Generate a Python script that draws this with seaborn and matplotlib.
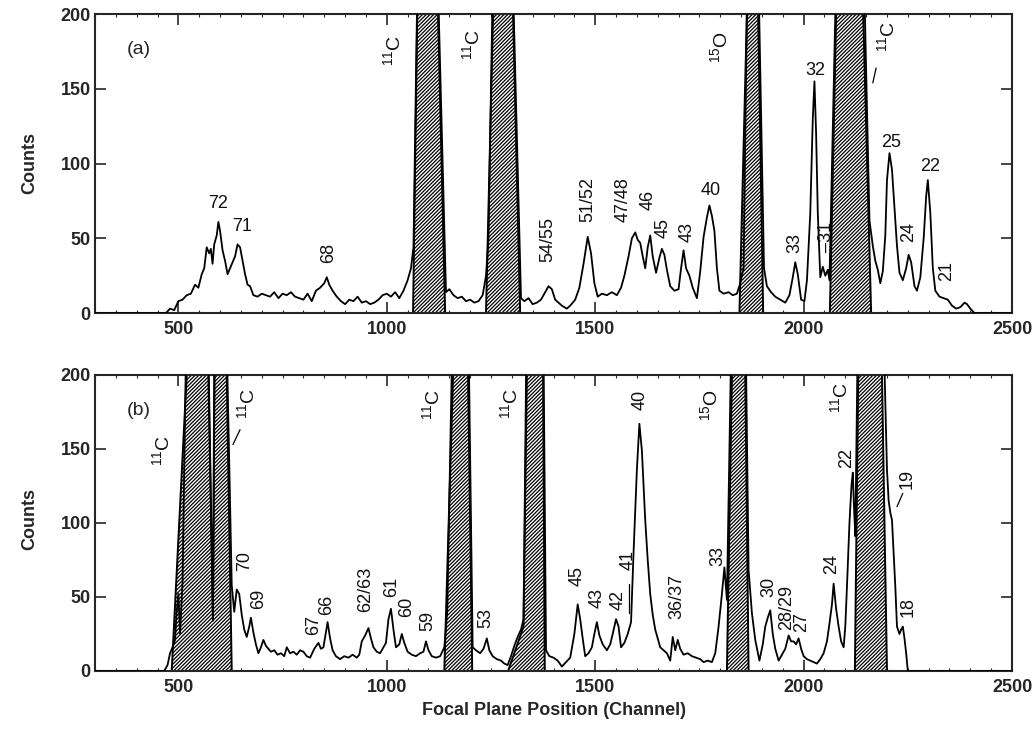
# Focal-plane spectra (a) and (b) with hatched contaminant peaks

import matplotlib
matplotlib.use('Agg')
import matplotlib.pyplot as plt
import seaborn as sns
import pandas as pd
from matplotlib.ticker import MultipleLocator

sns.set_style('ticks')
plt.rcParams['font.family'] = ['Liberation Sans', 'DejaVu Sans']
plt.rcParams['mathtext.fontset'] = 'custom'
plt.rcParams['mathtext.rm'] = 'Liberation Sans'
plt.rcParams['mathtext.it'] = 'Liberation Sans'
plt.rcParams['hatch.linewidth'] = 0.9

# ---- panel (a) spectrum (channel, counts) ----
a_channel = [300, 470, 480, 490, 500, 510, 520, 530, 540, 548, 556, 562, 568, 574, 578, 582, 586, 592, 596, 600,
             606, 612, 618, 624, 630, 636, 642, 648, 654, 660, 666, 672, 680, 690, 700, 710, 720, 730, 740, 750,
             760, 770, 780, 790, 800, 810, 820, 830, 840, 850, 856, 862, 870, 880, 890, 900, 910, 920, 930, 940,
             950, 960, 970, 980, 990, 1000, 1010, 1020, 1030, 1040, 1050, 1058, 1064, 1075, 1120, 1142, 1150, 1160, 1170, 1180,
             1190, 1200, 1210, 1220, 1230, 1238, 1244, 1256, 1300, 1322, 1330, 1340, 1350, 1360, 1370, 1380, 1388, 1396, 1404, 1412,
             1420, 1432, 1440, 1452, 1462, 1472, 1482, 1490, 1498, 1506, 1516, 1528, 1540, 1552, 1562, 1570, 1580, 1588, 1596, 1602,
             1608, 1614, 1620, 1626, 1632, 1638, 1646, 1654, 1660, 1666, 1672, 1680, 1690, 1700, 1706, 1712, 1718, 1726, 1734, 1744,
             1752, 1760, 1768, 1774, 1780, 1786, 1792, 1798, 1808, 1820, 1830, 1840, 1848, 1856, 1866, 1890, 1905, 1912, 1922, 1932,
             1944, 1956, 1966, 1974, 1980, 1986, 1994, 2002, 2008, 2016, 2022, 2026, 2030, 2034, 2040, 2046, 2052, 2058, 2062, 2080,
             2143, 2158, 2166, 2172, 2178, 2184, 2190, 2196, 2200, 2206, 2212, 2218, 2224, 2230, 2238, 2246, 2252, 2258, 2266, 2272,
             2280, 2288, 2294, 2298, 2304, 2310, 2316, 2326, 2336, 2346, 2356, 2366, 2376, 2386, 2392, 2400, 2410, 2500]
a_counts = [0, 0, 3, 2, 8, 9, 12, 13, 19, 17, 26, 30, 44, 40, 43, 33, 46, 52, 61, 55,
            42, 35, 26, 30, 34, 38, 46, 44, 35, 26, 19, 18, 12, 11, 13, 12, 11, 14, 10, 13,
            12, 14, 11, 10, 9, 13, 8, 15, 17, 20, 24, 19, 15, 11, 8, 6, 9, 8, 11, 7,
            8, 6, 7, 9, 12, 13, 11, 14, 10, 15, 22, 30, 44, 250, 250, 14, 16, 12, 10, 11,
            8, 9, 7, 8, 12, 25, 50, 250, 250, 10, 8, 10, 6, 7, 9, 14, 18, 16, 9, 7,
            5, 3, 5, 9, 17, 33, 51, 40, 20, 11, 13, 12, 14, 12, 17, 25, 38, 50, 54, 49,
            47, 38, 30, 44, 52, 38, 27, 37, 43, 39, 29, 18, 15, 16, 30, 42, 30, 25, 17, 10,
            28, 51, 64, 72, 65, 55, 30, 15, 13, 14, 12, 13, 20, 30, 250, 250, 30, 18, 14, 11,
            9, 7, 12, 24, 34, 26, 9, 8, 22, 67, 130, 155, 120, 67, 24, 31, 25, 29, 22, 250,
            250, 62, 45, 35, 29, 20, 28, 52, 89, 107, 96, 70, 45, 27, 22, 30, 39, 34, 18, 15,
            24, 50, 78, 89, 67, 30, 15, 11, 10, 9, 5, 3, 4, 7, 6, 3, 0, 0]

# ---- panel (b) spectrum ----
b_channel = [300, 466, 474, 480, 486, 492, 496, 500, 504, 510, 520, 570, 583, 588, 614, 628, 634, 640, 646, 652,
             658, 664, 670, 674, 680, 686, 692, 698, 704, 710, 716, 722, 730, 738, 746, 754, 760, 768, 776, 784,
             792, 800, 808, 816, 826, 836, 842, 848, 854, 858, 864, 870, 878, 888, 898, 908, 918, 928, 934, 940,
             948, 956, 962, 968, 976, 984, 990, 998, 1004, 1010, 1016, 1022, 1030, 1036, 1042, 1050, 1060, 1070, 1080, 1088,
             1094, 1100, 1108, 1118, 1128, 1138, 1145, 1159, 1195, 1206, 1214, 1224, 1232, 1240, 1246, 1254, 1264, 1274, 1282, 1290,
             1298, 1306, 1314, 1322, 1328, 1336, 1375, 1382, 1390, 1400, 1410, 1420, 1430, 1440, 1450, 1458, 1464, 1470, 1476, 1484,
             1492, 1498, 1504, 1510, 1518, 1528, 1536, 1542, 1550, 1556, 1562, 1570, 1578, 1586, 1592, 1600, 1606, 1612, 1620, 1626,
             1632, 1638, 1644, 1650, 1656, 1664, 1672, 1680, 1686, 1692, 1698, 1704, 1712, 1722, 1732, 1742, 1752, 1760, 1770, 1780,
             1788, 1796, 1804, 1810, 1816, 1828, 1860, 1868, 1876, 1884, 1894, 1902, 1908, 1914, 1920, 1926, 1932, 1940, 1948, 1956,
             1964, 1970, 1976, 1982, 1988, 1994, 2000, 2008, 2016, 2024, 2032, 2040, 2048, 2056, 2062, 2068, 2072, 2078, 2084, 2090,
             2096, 2100, 2104, 2110, 2115, 2118, 2121, 2124, 2131, 2190, 2200, 2204, 2208, 2212, 2216, 2220, 2224, 2230, 2234, 2238,
             2242, 2246, 2250, 2500]
b_counts = [0, 0, 4, 12, 16, 21, 40, 52, 25, 60, 250, 250, 34, 250, 250, 58, 40, 55, 52, 38,
            28, 23, 30, 36, 26, 18, 12, 16, 21, 17, 15, 13, 14, 11, 12, 10, 16, 12, 13, 11,
            14, 13, 10, 9, 15, 19, 15, 16, 26, 33, 22, 14, 10, 8, 10, 9, 11, 9, 11, 20,
            24, 29, 22, 16, 13, 12, 15, 19, 35, 42, 28, 16, 18, 25, 19, 13, 11, 10, 12, 13,
            20, 14, 10, 9, 10, 16, 40, 250, 250, 16, 14, 12, 15, 22, 14, 10, 8, 7, 5, 4,
            10, 17, 23, 28, 35, 250, 250, 14, 10, 9, 7, 3, 6, 9, 25, 45, 35, 22, 10, 12,
            16, 25, 33, 24, 18, 14, 18, 25, 35, 30, 16, 19, 25, 33, 80, 136, 167, 149, 102, 75,
            52, 38, 28, 22, 16, 14, 12, 7, 23, 14, 21, 15, 11, 12, 10, 9, 8, 6, 7, 6,
            12, 30, 52, 70, 48, 250, 250, 68, 39, 21, 7, 18, 30, 36, 41, 25, 15, 7, 11, 15,
            24, 20, 20, 18, 22, 15, 10, 8, 7, 6, 5, 8, 12, 20, 32, 45, 59, 42, 30, 20,
            16, 30, 57, 100, 126, 134, 110, 91, 250, 250, 136, 115, 107, 102, 80, 57, 30, 25, 28, 30,
            22, 12, 0, 0]

# ---- hatched contaminant regions (polygon outlines, channel / counts) ----
a_hatch_x = [[1063, 1073, 1123, 1140], [1238, 1255, 1303, 1320],
             [1846, 1864, 1891, 1903], [2063, 2078, 2143, 2162]]
a_hatch_y = [[0, 200, 200, 0]] * 4
b_hatch_x = [[484, 520, 572, 583, 586, 616, 628], [1138, 1159, 1195, 1205],
             [1291, 1328, 1336, 1375, 1379], [1816, 1828, 1860, 1868], [2123, 2131, 2188, 2200]]
b_hatch_y = [[0, 200, 200, 34, 200, 200, 0], [0, 200, 200, 0],
             [0, 30, 200, 200, 0], [0, 200, 200, 0], [0, 200, 200, 0]]

# ---- peak labels: text, channel, counts, rotation ----
C11 = r'$^{11}$C'
O15 = r'$^{15}$O'
a_labels = ['72', '71', '68', C11, C11, '54/55', '51/52', '47/48', '46', '45', '43', '40', O15,
            '33', '32', '–31', C11, '25', '24', '22', '21']
a_lab_x = [595, 653, 861, 1015, 1204, 1387, 1483, 1567, 1627, 1663, 1720, 1776, 1800,
           1979, 2027, 2056, 2200, 2210, 2253, 2303, 2342]
a_lab_y = [73, 58, 40, 176, 180, 49, 76, 76, 76, 57, 54, 82, 178,
           47, 162, 51, 185, 114, 54, 98, 28]
a_lab_rot = [0, 0, 90, 90, 90, 90, 90, 90, 90, 90, 90, 0, 90,
             90, 0, 90, 90, 0, 90, 0, 90]

b_labels = [C11, C11, '70', '69', '67', '66', '62/63', '61', '60', '59', C11, '53', C11,
            '45', '43', '42', '41', '40', '36/37', O15, '33', '30', '28/29', '27', '24', '22',
            C11, '19', '18']
b_lab_x = [461, 665, 660, 692, 825, 856, 950, 1012, 1048, 1099, 1108, 1238, 1296,
           1456, 1504, 1555, 1579, 1608, 1696, 1776, 1795, 1917, 1960, 1996, 2068, 2102,
           2087, 2248, 2251]
b_lab_y = [149, 181, 74, 49, 31, 45, 55, 57, 43, 34, 180, 36, 181,
           64, 49, 48, 75, 183, 50, 180, 78, 57, 43, 33, 72, 144,
           185, 130, 43]

# short leader lines (channel pairs, count pairs)
a_lead = [([2166, 2174], [154, 164])]
b_lead = [([631, 648], [153, 163]), ([1580, 1580], [39, 59]), ([2224, 2238], [111, 120])]

fig = plt.figure(figsize=(10.35, 7.42), dpi=100)
ax_a = fig.add_axes([0.0918, 0.578, 0.886, 0.403])
ax_b = fig.add_axes([0.0918, 0.0957, 0.886, 0.399])

panels = [
    (ax_a, a_channel, a_counts, a_hatch_x, a_hatch_y, a_labels, a_lab_x, a_lab_y, a_lab_rot, a_lead, '(a)'),
    (ax_b, b_channel, b_counts, b_hatch_x, b_hatch_y, b_labels, b_lab_x, b_lab_y, [90] * len(b_labels), b_lead, '(b)'),
]

for ax, ch, cnt, hx, hy, labs, lx, ly, lrot, leads, tag in panels:
    df = pd.DataFrame({'channel': ch, 'counts': cnt})
    for xs, ys in zip(hx, hy):
        ax.fill(xs, ys, facecolor='white', edgecolor='black', hatch='/////////', linewidth=1.4, zorder=2)
    sns.lineplot(data=df, x='channel', y='counts', estimator=None, sort=False,
                 color='black', linewidth=1.3, ax=ax, zorder=3)
    for s, x, y, r in zip(labs, lx, ly, lrot):
        fs = 14 if s in (C11, O15) else 13
        ax.text(x, y, s, rotation=r, ha='center', va='center', fontsize=fs, zorder=4, color='#111111')
    for xs, ys in leads:
        ax.plot(xs, ys, color='black', linewidth=0.9, zorder=4)
    ax.text(405, 176, tag, ha='center', va='center', fontsize=14)

    ax.set_xlim(300, 2500)
    ax.set_ylim(0, 200)
    ax.set_xticks([500, 1000, 1500, 2000, 2500])
    ax.set_yticks([0, 50, 100, 150, 200])
    ax.xaxis.set_minor_locator(MultipleLocator(50))
    ax.tick_params(which='major', direction='in', top=True, right=True, length=8, width=1.2,
                   labelsize=13)
    ax.tick_params(axis='y', pad=3)
    ax.tick_params(axis='x', pad=6)
    ax.tick_params(which='minor', direction='in', top=True, length=2.5, width=0.8)
    for lab in ax.get_xticklabels() + ax.get_yticklabels():
        lab.set_fontweight('bold')
    for sp in ax.spines.values():
        sp.set_linewidth(1.5)
    ax.set_xlabel('')
    ax.set_ylabel('')

fig.text(0.029, 0.78, 'Counts', rotation=90, ha='center', va='center', fontsize=13, fontweight='bold')
fig.text(0.029, 0.30, 'Counts', rotation=90, ha='center', va='center', fontsize=13, fontweight='bold')
fig.text(0.535, 0.043, 'Focal Plane Position (Channel)', ha='center', va='center', fontsize=13, fontweight='bold')

fig.savefig('out.png', dpi=100)
